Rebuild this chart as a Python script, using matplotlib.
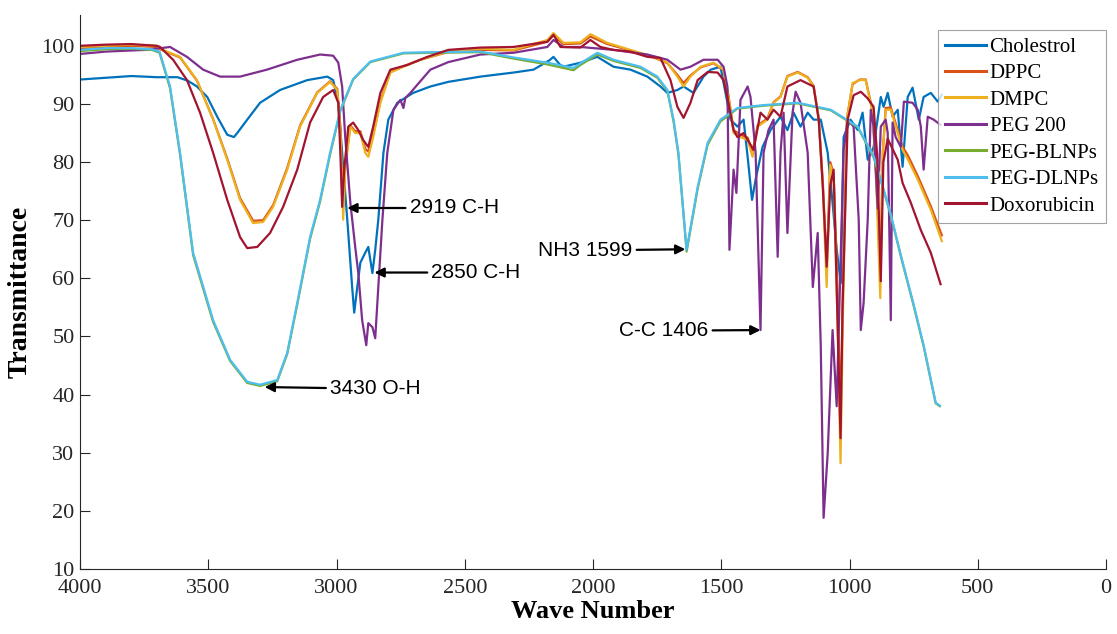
import numpy as np
import matplotlib.pyplot as plt

# FTIR spectra: (wave number, transmittance)
cholestrol = [(4000, 94.2), (3900, 94.5), (3800, 94.8), (3700, 94.6), (3620, 94.6), (3580, 94.0),
              (3544, 93.0), (3504, 91.2), (3465, 87.8), (3426, 84.7), (3400, 84.3), (3387, 85.0),
              (3348, 87.3), (3298, 90.2), (3220, 92.4), (3114, 94.1), (3036, 94.7), (3013, 94.1),
              (2993, 90.2), (2978, 81.6), (2958, 70.1), (2939, 58.5), (2931, 54.1), (2919, 58.5),
              (2907, 62.7), (2888, 64.4), (2876, 65.4), (2860, 60.9), (2849, 64.9), (2837, 70.1),
              (2817, 81.6), (2798, 87.3), (2763, 90.2), (2701, 91.9), (2634, 93.0), (2564, 93.8),
              (2439, 94.7), (2310, 95.4), (2232, 95.9), (2170, 97.5), (2154, 98.1), (2130, 96.8),
              (2115, 96.4), (2049, 97.1), (1983, 98.1), (1920, 96.4), (1854, 95.9), (1788, 94.7),
              (1737, 93.0), (1710, 91.9), (1671, 92.4), (1647, 93.0), (1608, 91.9), (1569, 94.7),
              (1541, 95.9), (1503, 96.4), (1476, 90.2), (1464, 87.3), (1437, 86.1), (1413, 87.3),
              (1395, 80.0), (1380, 73.5), (1366, 77.0), (1339, 82.6), (1308, 85.5), (1269, 87.8),
              (1242, 85.5), (1218, 88.5), (1191, 86.1), (1163, 88.5), (1140, 87.3), (1112, 87.3),
              (1085, 81.6), (1066, 73.0), (1050, 65.0), (1034, 59.2), (1023, 84.3), (996, 87.3),
              (968, 85.5), (949, 88.5), (929, 80.4), (906, 82.6), (878, 91.2), (867, 89.5),
              (851, 91.9), (832, 87.8), (812, 89.0), (793, 79.2), (773, 91.2), (754, 92.8),
              (730, 87.3), (711, 91.2), (683, 91.9), (656, 90.4), (640, 91.6)]

dppc = [(4000, 99.6), (3900, 99.8), (3800, 100.0), (3700, 99.8), (3688, 99.4), (3610, 98.0),
        (3544, 94.0), (3481, 87.4), (3426, 80.6), (3376, 73.8), (3325, 69.9), (3286, 70.0),
        (3247, 72.6), (3192, 79.0), (3142, 86.3), (3075, 92.0), (3025, 93.9), (2997, 92.6),
        (2985, 86.0), (2974, 72.5), (2966, 79.5), (2946, 86.3), (2927, 85.3), (2907, 85.3),
        (2888, 82.3), (2876, 81.8), (2857, 84.8), (2829, 90.5), (2790, 95.5), (2739, 96.5),
        (2673, 97.6), (2568, 98.9), (2439, 99.3), (2310, 99.2), (2178, 100.7), (2154, 101.8),
        (2115, 100.3), (2049, 100.4), (2010, 101.6), (1944, 100.3), (1854, 99.2), (1764, 98.0),
        (1710, 97.0), (1671, 95.0), (1647, 93.6), (1620, 94.9), (1580, 96.3), (1530, 97.0),
        (1491, 95.8), (1472, 91.5), (1452, 85.5), (1425, 84.7), (1397, 84.2), (1378, 81.8),
        (1358, 86.3), (1320, 87.5), (1296, 90.3), (1269, 91.3), (1242, 94.8), (1202, 95.5),
        (1163, 94.6), (1140, 93.1), (1120, 87.6), (1104, 76.5), (1089, 62.0), (1075, 80.0),
        (1062, 78.0), (1048, 60.0), (1035, 36.0), (1025, 60.0), (1010, 87.5), (988, 93.4),
        (960, 94.2), (937, 94.2), (910, 88.8), (895, 77.0), (880, 61.0), (870, 81.8),
        (859, 89.3), (839, 89.4), (812, 85.5), (793, 82.6), (773, 81.2), (734, 77.6),
        (683, 72.4), (640, 67.4)]

dmpc = [(4000, 99.8), (3900, 100.0), (3800, 100.2), (3700, 100.0), (3688, 99.5), (3610, 98.1),
        (3544, 94.1), (3481, 87.3), (3426, 80.4), (3376, 73.5), (3325, 69.5), (3286, 69.7),
        (3247, 72.3), (3192, 78.7), (3142, 86.1), (3075, 91.9), (3025, 93.8), (2997, 92.4),
        (2985, 85.0), (2974, 70.1), (2966, 78.7), (2946, 86.1), (2927, 85.0), (2907, 85.0),
        (2888, 81.6), (2876, 80.9), (2857, 84.3), (2829, 90.2), (2790, 95.4), (2739, 96.4),
        (2673, 97.6), (2568, 99.0), (2439, 99.5), (2310, 99.3), (2178, 101.0), (2154, 102.2),
        (2115, 100.5), (2049, 100.6), (2010, 102.0), (1944, 100.5), (1854, 99.3), (1764, 98.1),
        (1710, 97.1), (1671, 94.7), (1647, 93.0), (1620, 94.7), (1580, 96.4), (1530, 97.1),
        (1491, 95.9), (1472, 91.2), (1452, 85.0), (1425, 84.3), (1397, 83.8), (1378, 80.9),
        (1358, 86.1), (1320, 87.3), (1296, 90.2), (1269, 91.2), (1242, 94.7), (1202, 95.4),
        (1163, 94.5), (1140, 93.0), (1120, 87.3), (1104, 75.7), (1089, 58.5), (1075, 79.5),
        (1062, 77.5), (1048, 55.0), (1035, 28.2), (1025, 55.0), (1010, 87.3), (988, 93.6),
        (960, 94.1), (937, 94.1), (910, 88.5), (895, 75.7), (880, 56.6), (870, 81.6),
        (859, 89.0), (839, 89.0), (812, 85.0), (793, 82.1), (773, 80.5), (734, 77.0),
        (683, 71.8), (640, 66.4)]

peg200 = [(4000, 98.6), (3900, 99.0), (3800, 99.2), (3739, 99.3), (3649, 99.8), (3583, 98.1),
          (3520, 95.9), (3454, 94.7), (3376, 94.7), (3271, 95.9), (3153, 97.6), (3064, 98.5),
          (3013, 98.3), (2993, 97.1), (2978, 93.0), (2966, 84.3), (2946, 73.0), (2927, 65.4),
          (2915, 60.9), (2900, 52.8), (2884, 48.5), (2876, 52.3), (2860, 51.6), (2849, 49.7),
          (2837, 58.5), (2821, 70.1), (2802, 81.6), (2778, 89.0), (2751, 90.7), (2739, 89.3),
          (2732, 91.0), (2712, 91.9), (2685, 93.3), (2634, 95.9), (2564, 97.2), (2439, 98.5),
          (2310, 98.8), (2178, 99.8), (2154, 101.0), (2115, 99.8), (2049, 99.8), (1920, 99.3),
          (1788, 98.5), (1710, 97.6), (1659, 95.9), (1620, 96.4), (1569, 97.6), (1514, 97.6),
          (1491, 96.4), (1476, 93.0), (1468, 64.9), (1452, 78.7), (1441, 74.7), (1425, 90.7),
          (1397, 93.0), (1386, 91.2), (1366, 81.6), (1347, 51.1), (1335, 81.6), (1316, 85.5),
          (1296, 87.3), (1280, 63.7), (1269, 81.6), (1257, 88.5), (1242, 67.8), (1222, 88.5),
          (1210, 92.1), (1191, 90.2), (1163, 81.6), (1143, 58.5), (1124, 67.8), (1112, 48.2),
          (1101, 18.8), (1085, 29.9), (1066, 51.1), (1050, 38.0), (1023, 82.1), (1007, 87.3),
          (984, 86.1), (964, 70.0), (956, 51.1), (945, 55.8), (929, 70.0), (917, 89.0),
          (906, 86.1), (890, 72.0), (878, 86.1), (859, 87.3), (851, 85.0), (839, 52.8),
          (832, 86.8), (820, 84.3), (800, 82.6), (788, 90.4), (754, 90.2), (734, 89.0),
          (722, 86.1), (711, 78.7), (695, 87.8), (672, 87.3), (645, 86.4)]

peg_blnps = [(4000, 99.1), (3900, 99.4), (3800, 99.5), (3720, 99.3), (3690, 98.8), (3649, 92.7),
             (3610, 81.3), (3559, 64.0), (3481, 52.5), (3415, 45.8), (3348, 42.0), (3298, 41.5),
             (3231, 42.3), (3192, 47.0), (3153, 55.5), (3103, 66.8), (3064, 73.2), (3025, 81.3),
             (2985, 88.8), (2935, 94.2), (2868, 97.2), (2739, 98.7), (2634, 98.8), (2439, 98.9),
             (2310, 97.8), (2178, 96.8), (2076, 95.8), (2049, 96.7), (1983, 98.5), (1920, 97.4),
             (1815, 96.2), (1749, 94.5), (1710, 92.2), (1686, 87.0), (1667, 81.3), (1635, 64.6),
             (1592, 75.4), (1553, 83.0), (1503, 87.0), (1437, 89.2), (1335, 89.7), (1202, 90.1),
             (1073, 88.9), (968, 86.0), (906, 80.8), (878, 76.8), (839, 70.8), (800, 63.8),
             (750, 55.3), (711, 48.3), (664, 38.5), (648, 38.0)]

peg_dlnps = [(4000, 99.3), (3900, 99.6), (3800, 99.6), (3720, 99.4), (3690, 99.0), (3649, 93.0),
             (3610, 81.6), (3559, 64.4), (3481, 52.8), (3415, 46.0), (3348, 42.2), (3298, 41.7),
             (3231, 42.5), (3192, 47.2), (3153, 55.8), (3103, 67.1), (3064, 73.5), (3025, 81.6),
             (2985, 89.0), (2935, 94.3), (2868, 97.3), (2739, 98.8), (2634, 98.9), (2439, 99.0),
             (2310, 98.0), (2178, 97.1), (2076, 96.2), (2049, 97.0), (1983, 98.8), (1920, 97.6),
             (1815, 96.4), (1749, 94.7), (1710, 92.4), (1686, 87.3), (1667, 81.6), (1635, 64.9),
             (1592, 75.7), (1553, 83.3), (1503, 87.3), (1437, 89.3), (1335, 89.8), (1202, 90.2),
             (1073, 89.0), (968, 86.1), (906, 81.0), (878, 77.0), (839, 71.0), (800, 64.0),
             (750, 55.5), (711, 48.5), (664, 38.6), (648, 38.1)]

doxorubicin = [(4000, 100.0), (3900, 100.2), (3800, 100.3), (3700, 100.0), (3688, 99.8), (3637, 97.6),
               (3583, 94.1), (3532, 88.5), (3481, 81.6), (3426, 73.5), (3376, 67.1), (3348, 65.2),
               (3309, 65.4), (3259, 67.8), (3208, 72.3), (3153, 78.7), (3103, 86.8), (3052, 91.2),
               (3013, 92.4), (2993, 90.2), (2985, 81.6), (2978, 72.3), (2970, 78.7), (2954, 86.1),
               (2935, 86.8), (2915, 85.5), (2896, 83.8), (2876, 82.6), (2857, 86.1), (2829, 91.9),
               (2790, 95.9), (2724, 96.7), (2646, 98.1), (2564, 99.3), (2439, 99.7), (2310, 99.8),
               (2178, 100.7), (2154, 101.9), (2127, 99.8), (2049, 99.7), (2010, 101.0), (1971, 99.8),
               (1920, 99.3), (1854, 99.0), (1788, 98.1), (1737, 97.9), (1698, 94.1), (1671, 89.5),
               (1647, 87.6), (1620, 90.2), (1592, 94.1), (1553, 95.5), (1514, 95.4), (1491, 94.1),
               (1472, 90.2), (1452, 85.5), (1437, 84.3), (1413, 85.0), (1397, 83.8), (1374, 82.1),
               (1347, 88.5), (1320, 87.3), (1296, 89.0), (1269, 87.8), (1242, 93.0), (1191, 94.1),
               (1140, 93.0), (1120, 87.3), (1104, 75.7), (1089, 62.0), (1075, 76.0), (1062, 78.7),
               (1048, 55.0), (1035, 32.5), (1027, 55.0), (1007, 87.3), (984, 91.5), (956, 92.1),
               (930, 91.0), (906, 89.5), (892, 81.0), (878, 59.5), (868, 80.0), (851, 84.0),
               (812, 80.4), (793, 76.4), (761, 73.0), (722, 68.3), (683, 64.4), (645, 59.0)]

series_names = ['Cholestrol', 'DPPC', 'DMPC', 'PEG 200', 'PEG-BLNPs', 'PEG-DLNPs', 'Doxorubicin']
series_data = [cholestrol, dppc, dmpc, peg200, peg_blnps, peg_dlnps, doxorubicin]
colors = ['#0072BD', '#D95319', '#EDB120', '#7E2F8E', '#77AC30', '#4DBEEE', '#A2142F']

# peak labels: text, arrow tip (wn, T), text anchor (wn, T), alignment
peaks = [('2919 C-H', (2958, 72.1), (2715, 72.1), 'left'),
         ('2850 C-H', (2852, 61.0), (2630, 61.0), 'left'),
         ('3430 O-H', (3280, 41.3), (3025, 41.0), 'left'),
         ('NH3 1599', (1640, 65.0), (1846, 64.8), 'right'),
         ('C-C 1406', (1347, 51.1), (1550, 51.0), 'right')]

fig = plt.figure(figsize=(11.17, 6.34), dpi=100)
ax = fig.add_axes([80 / 1117, 65 / 634, 1026 / 1117, 554 / 634])

for name, data, c in zip(series_names, series_data, colors):
    arr = np.array(data)
    ax.plot(arr[:, 0], arr[:, 1], color=c, lw=1.6, label=name)

for txt, tip, pos, ha in peaks:
    ax.annotate(txt, xy=tip, xytext=pos, ha=ha, va='center',
                fontsize=15, family='Liberation Sans', color='black',
                arrowprops=dict(arrowstyle='-|>', color='black', lw=1.6,
                                mutation_scale=14, shrinkA=1, shrinkB=0))

ax.set_xlim(4000, 0)
ax.set_ylim(10, 105.3)
ax.set_xticks(np.arange(4000, -1, -500))
ax.set_yticks(np.arange(10, 101, 10))

serif = 'Liberation Serif'
for lab in ax.get_xticklabels() + ax.get_yticklabels():
    lab.set_family(serif)
ax.tick_params(direction='in', length=7, width=0.8, labelsize=16,
               colors='#262626', pad=4)
ax.tick_params(axis='x', pad=7)
for s in ['top', 'right']:
    ax.spines[s].set_visible(False)
for s in ['left', 'bottom']:
    ax.spines[s].set_color('#262626')
    ax.spines[s].set_linewidth(0.8)

ax.set_xlabel('Wave Number', family=serif, fontsize=19, fontweight='bold', labelpad=2)
ax.set_ylabel('Transmittance', family=serif, fontsize=20, fontweight='bold', labelpad=6)

leg = ax.legend(loc='upper right', bbox_to_anchor=(1.0, 1 - 15 / 554),
                borderaxespad=0, fancybox=False, edgecolor='#8c8c8c',
                prop={'family': serif, 'size': 15}, handlelength=2.0,
                handletextpad=0.15, labelspacing=0.33, borderpad=0.35)
leg.get_frame().set_linewidth(0.8)
for line in leg.get_lines():
    line.set_linewidth(2.2)

fig.savefig('out.png', dpi=100)
